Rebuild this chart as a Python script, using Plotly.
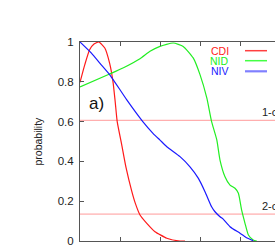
import plotly.graph_objects as go

# ---- data (x in axis units, one tick per unit) ----
cdi_x = [0, 0.12, 0.24, 0.35, 0.47, 0.62, 0.74, 0.825, 0.88, 0.93, 1.04, 1.15, 1.29, 1.375, 1.5, 1.67, 1.875, 2.17, 2.5, 2.625]
cdi_y = [0.797, 0.886, 0.961, 0.99, 1.0, 0.97, 0.894, 0.80, 0.70, 0.60, 0.487, 0.37, 0.253, 0.194, 0.131, 0.089, 0.047, 0.014, 0.0, 0.0]

nid_x = [0, 0.74, 1.1, 1.5, 1.75, 2.0, 2.33, 2.58, 2.83, 3.0, 3.17, 3.29, 3.42, 3.5, 3.625, 3.75, 3.875, 3.96, 4.04, 4.125, 4.21, 4.33, 4.42]
nid_y = [0.774, 0.839, 0.872, 0.916, 0.953, 0.978, 0.995, 0.978, 0.92, 0.836, 0.719, 0.60, 0.508, 0.407, 0.323, 0.281, 0.265, 0.24, 0.156, 0.089, 0.03, 0.005, 0.0]

niv_x = [0, 0.29, 0.5, 0.75, 1.17, 1.57, 1.83, 2.0, 2.17, 2.5, 2.75, 2.96, 3.125, 3.29, 3.375, 3.5, 3.58, 3.75, 4.0, 4.15, 4.29, 4.33]
niv_y = [1.0, 0.943, 0.893, 0.834, 0.709, 0.60, 0.54, 0.507, 0.474, 0.424, 0.373, 0.315, 0.248, 0.172, 0.147, 0.122, 0.110, 0.072, 0.039, 0.018, 0.005, 0.0]

sigma_levels = [0.6065, 0.1353]
sigma_labels = ["1-σ", "2-σ"]
series_names = ["CDI", "NID", "NIV"]
series_colors = ["#ff1a1a", "#22ee22", "#1a1aff"]
legend_sample_colors = ["#ff4040", "#44ff44", "#8080ff"]
y_ticks = [0, 0.2, 0.4, 0.6, 0.8, 1]
y_tick_labels = ["0", "0.2", "0.4", "0.6", "0.8", "1"]

FONT = "Liberation Sans, Arial, Helvetica, sans-serif"
X_MAX = 195 / 40

fig = go.Figure()

for lvl in sigma_levels:
    fig.add_trace(go.Scatter(x=[0, X_MAX], y=[lvl, lvl], mode="lines",
                             line=dict(color="#ff9a9a", width=1), hoverinfo="skip", showlegend=False))

for xs, ys, col, nm in zip([cdi_x, nid_x, niv_x], [cdi_y, nid_y, niv_y], series_colors, series_names):
    fig.add_trace(go.Scatter(x=xs, y=ys, mode="lines", name=nm,
                             line=dict(color=col, width=1.2, shape="spline", smoothing=0.5),
                             showlegend=False))


def px(p):
    return (p - 80) / 195


def py(p):
    return (241 - p) / 199


ann = []
shapes = []
leg_y = [50.7, 60.7, 71.3]
for nm, col, scol, yy in zip(series_names, series_colors, legend_sample_colors, leg_y):
    ann.append(dict(x=px(231), y=py(yy), xref="paper", yref="paper", text=nm, showarrow=False,
                    xanchor="right", yanchor="middle", font=dict(family=FONT, size=10.5, color=col)))
    shapes.append(dict(type="line", xref="paper", yref="paper", x0=px(245), x1=px(267), y0=py(yy), y1=py(yy),
                       line=dict(color=scol, width=1.5 if nm != "NIV" else 2.2)))

for lvl, lab in zip(sigma_levels, sigma_labels):
    ann.append(dict(x=px(261), y=lvl, xref="paper", yref="y", text=lab, showarrow=False,
                    xanchor="left", yanchor="bottom", yshift=1, borderpad=0,
                    font=dict(family=FONT, size=11, color="#222")))

ann.append(dict(x=px(87), y=py(103), xref="paper", yref="paper", text="a)", showarrow=False,
                xanchor="left", yanchor="middle", font=dict(family=FONT, size=17, color="#111")))
ann.append(dict(x=px(37), y=0.5, xref="paper", yref="paper", text="probability", showarrow=False,
                textangle=-90, xanchor="center", yanchor="middle", font=dict(family=FONT, size=10.5, color="#222")))

fig.update_layout(
    width=275, height=248,
    margin=dict(l=80, r=0, t=42, b=7),
    paper_bgcolor="white", plot_bgcolor="white",
    annotations=ann, shapes=shapes,
    showlegend=False,
    xaxis=dict(range=[0, X_MAX], dtick=1, tick0=0, showgrid=False, zeroline=False,
               showline=True, linecolor="#555", linewidth=1, mirror="ticks",
               ticks="inside", ticklen=4, tickcolor="#555", showticklabels=False),
    yaxis=dict(range=[0, 1], tickvals=y_ticks, ticktext=y_tick_labels, showgrid=False, zeroline=False,
               showline=True, linecolor="#555", linewidth=1, mirror=False,
               ticks="inside", ticklen=4, tickcolor="#555",
               tickfont=dict(family=FONT, size=11.5, color="#222"), ticklabelstandoff=3),
)

fig.write_html("out.html", config={"displayModeBar": False},
               post_script="document.body.style.margin='0';document.body.style.overflow='hidden';")
